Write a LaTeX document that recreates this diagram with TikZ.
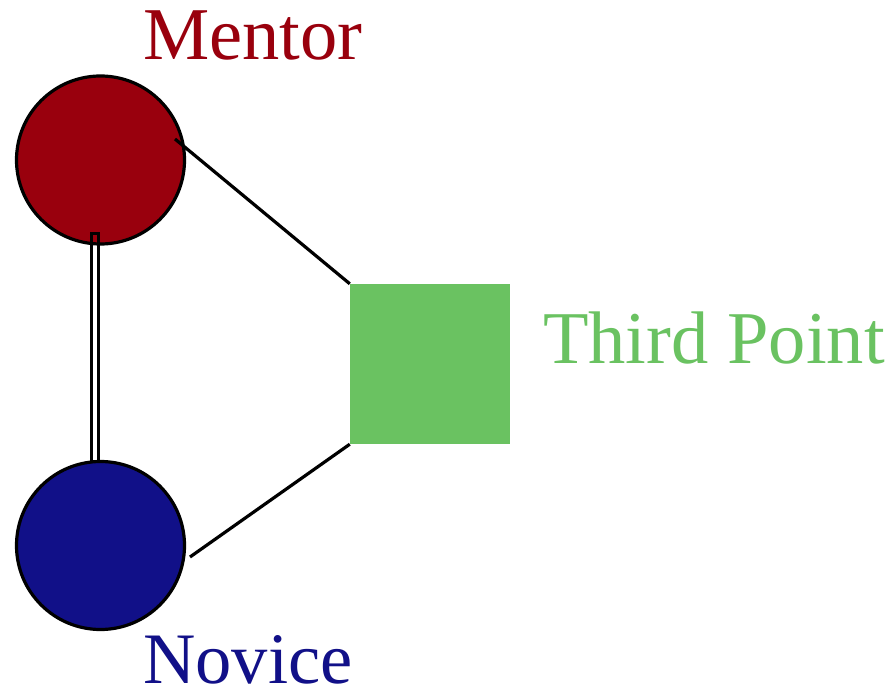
\documentclass[tikz,border=0pt]{standalone}
\usepackage{fontspec}
\setmainfont{Liberation Serif}
\definecolor{mentorred}{RGB}{153,0,13}
\definecolor{noviceblue}{RGB}{17,16,136}
\definecolor{pointgreen}{RGB}{106,194,97}
\begin{document}
\begin{tikzpicture}[x=1pt,y=-1pt,
  person/.style={circle,draw=black,line width=3.2pt,minimum size=168pt,inner sep=0pt},
  point/.style={rectangle,minimum size=160pt,inner sep=0pt,fill=pointgreen},
  label/.style={font=\fontsize{74.5}{80}\selectfont,anchor=base west,inner sep=0pt},
  link/.style={line width=3.2pt}]
  \useasboundingbox (0,0) rectangle (895,698);

  % the two people and the shared point
  \node[person,fill=mentorred] (mentor) at (100.5,160) {};
  \node[point] (third) at (430,364) {};

  % double tie from mentor down to novice
  \coordinate (tieTop) at (91.5,233.5);
  \coordinate (tieBot) at (98.5,470);
  \draw[line width=2.8pt] (tieTop) rectangle (tieBot);

  \node[person,fill=noviceblue] (novice) at (100.5,545.5) {};

  % links to the third point
  \coordinate (mentorEnd) at (175,139);
  \coordinate (noviceEnd) at (190,557);
  \draw[link] (mentorEnd) -- (third.north west);
  \draw[link] (noviceEnd) -- (third.south west);

  % captions
  \node[label,text=mentorred] (mentorText) at (143,60) {Mentor};
  \node[label,text=pointgreen] (thirdText) at (543,363) {Third Point};
  \node[label,text=noviceblue,font=\fontsize{72.5}{80}\selectfont] (noviceText) at (143,683) {Novice};
\end{tikzpicture}
\end{document}
